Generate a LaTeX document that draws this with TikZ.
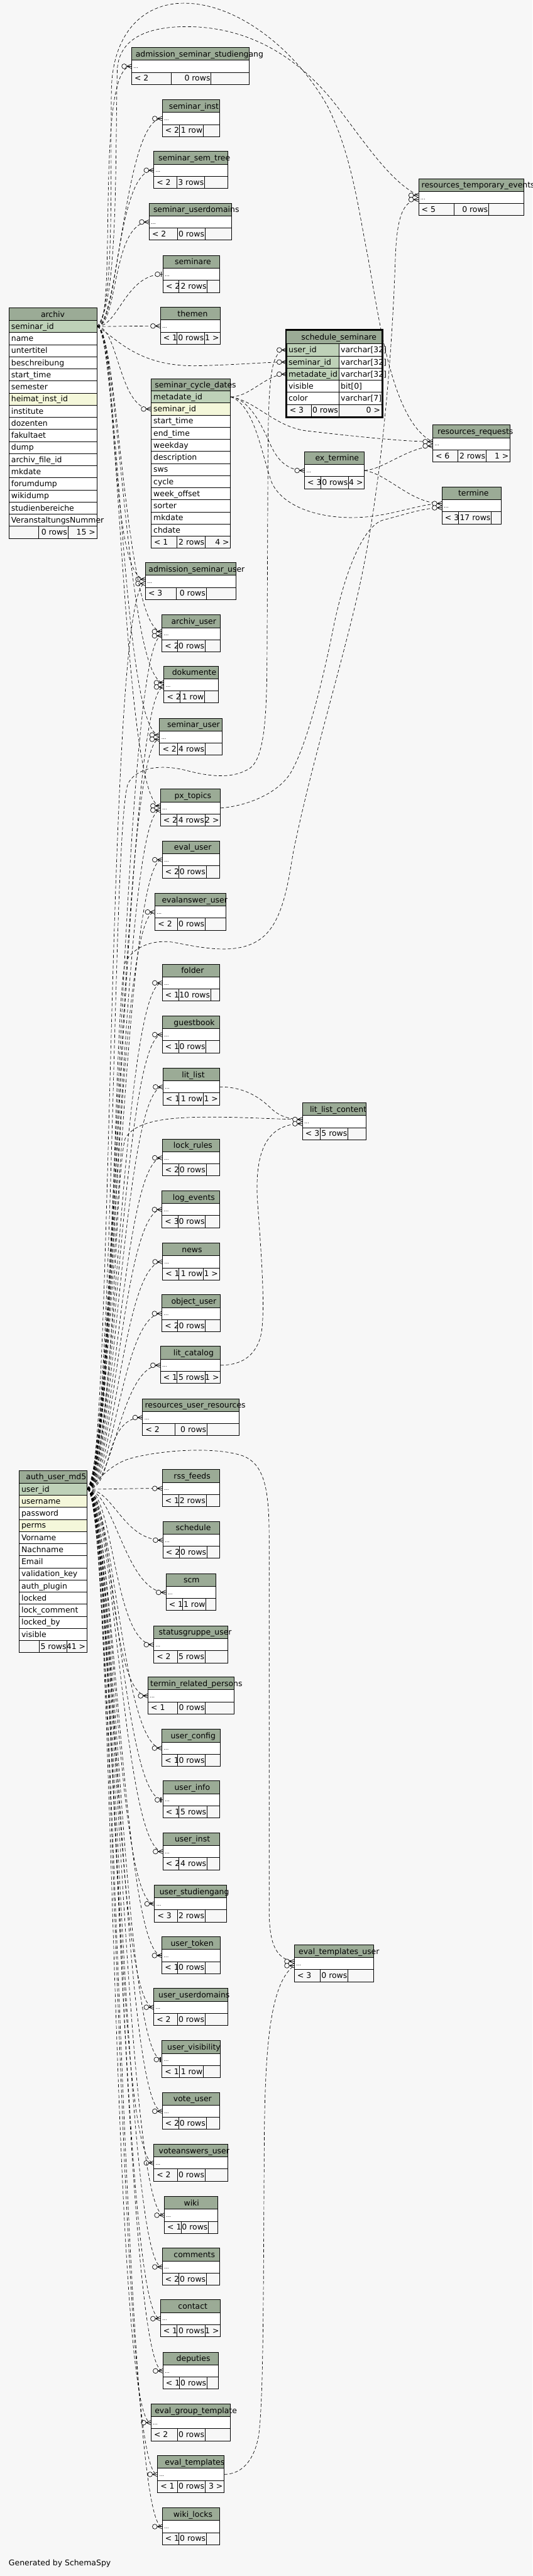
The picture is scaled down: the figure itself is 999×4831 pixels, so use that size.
\documentclass[tikz,border=0pt]{standalone}
\usepackage{fontspec}
\setmainfont{DejaVu Sans}
\usetikzlibrary{fit}
\definecolor{bg}{HTML}{F7F7F7}
\definecolor{hdr}{HTML}{9BAB96}
\definecolor{keycol}{HTML}{BED1B8}
\definecolor{idxcol}{HTML}{F4F7DA}
\tikzset{
  fkline/.style={line width=0.6pt, dash pattern=on 4.5pt off 3pt},
  marker/.style={line width=0.6pt, solid},
  cell/.style={anchor=base west, inner sep=0pt},
  rowbox/.style={draw, line width=0.75pt, inner sep=0pt},
  crowodot/.pic={
    \draw[marker] (-9,0) -- (0,4) (-9,0) -- (0,-4) (-9,0) -- (0,0);
    \draw[marker, fill=bg] (-13.5,0) circle[radius=3.4pt];
  },
  teeodot/.pic={
    \draw[marker, line width=1.5pt] (-3,-4.5) -- (-3,4.5);
    \draw[marker, fill=bg] (-10,0) circle[radius=3.4pt];
  }
}
\catcode`\_=12
\begin{document}
\begin{tikzpicture}[x=0.75pt, y=-0.75pt, line width=0.75pt,
    every node/.style={font=\fontsize{11}{13}\selectfont}]
\fill[bg] (0,0) rectangle (999,4831);
\useasboundingbox (0,0) rectangle (999,4831);

\foreach \n/\xl/\xr/\yt/\sa/\sb/\fa/\fb/\fc/\tx in {
  admission_seminar_studiengang/247/468/89/321/396/{< 2}/{0 rows}/{}/254,
  seminar_inst/304.5/412/187/336.4/381.6/{< 2}/{1 row}/{}/316.6,
  seminar_sem_tree/288.6/427/284/332/384/{< 2}/{3 rows}/{}/297,
  seminar_userdomains/280/435/381/332.6/384.8/{< 2}/{0 rows}/{}/287.3,
  resources_temporary_events/785.5/983/335/852/917/{< 5}/{0 rows}/{}/790.6,
  seminare/306/411.6/479/336/389/{< 2}/{2 rows}/{}/327.5,
  themen/301/413.5/576/332/384/{< 1}/{0 rows}/{1 >}/332.6,
  resources_requests/812/957/797/859/912/{< 6}/{2 rows}/{1 >}/820.6,
  ex_termine/571.5/683.6/847/602/654/{< 3}/{0 rows}/{4 >}/591,
  termine/829.5/940/913/860/922/{< 3}/{17 rows}/{}/859.4,
  admission_seminar_user/273/443/1055/331/387/{< 3}/{0 rows}/{}/278.4,
  archiv_user/304/413.5/1153/333/385/{< 2}/{0 rows}/{}/321,
  dokumente/307.7/409.7/1249/337.6/384/{< 2}/{1 row}/{}/322.4,
  seminar_user/299.4/416.7/1347/332.6/385/{< 2}/{4 rows}/{}/313.4,
  px_topics/301/413.5/1480/332/384.5/{< 2}/{4 rows}/{2 >}/326.8,
  eval_user/304.5/411.6/1577/335/387/{< 2}/{0 rows}/{}/326.2,
  evalanswer_user/291/424/1675/332.6/385/{< 2}/{0 rows}/{}/303.3,
  folder/304.5/412/1808/335/395.6/{< 1}/{10 rows}/{}/339.6,
  guestbook/304.5/412/1905/335/386.7/{< 1}/{0 rows}/{}/325.6,
  lit_list/305.8/411.6/2003/336/381.6/{< 1}/{1 row}/{1 >}/340.8,
  lit_list_content/567.6/687.4/2068/601.4/653/{< 3}/{5 rows}/{}/581,
  lock_rules/304.5/412/2136/335/387/{< 2}/{0 rows}/{}/325,
  log_events/304/412/2233/333.8/385.4/{< 3}/{0 rows}/{}/323.6,
  news/305/411.6/2331/336/381.6/{< 1}/{1 row}/{1 >}/340.8,
  object_user/304/413.5/2428/333/385.4/{< 2}/{0 rows}/{}/321,
  lit_catalog/301/413.5/2525/332/384.8/{< 1}/{5 rows}/{1 >}/325,
  resources_user_resources/267.6/448.5/2623/328/388.6/{< 2}/{0 rows}/{}/271.4,
  rss_feeds/304.5/411.6/2756/335.7/387/{< 1}/{2 rows}/{}/325.6,
  schedule/305.8/411.6/2853/336.4/388.6/{< 2}/{0 rows}/{}/329.4,
  scm/311.5/404.6/2951/342/386.7/{< 1}/{1 row}/{}/344,
  statusgruppe_user/288.6/427.5/3049/332.6/384.8/{< 2}/{5 rows}/{}/297.5,
  termin_related_persons/277.8/439.6/3145/332.6/385.4/{< 1}/{0 rows}/{}/281.6,
  user_config/304/413.5/3243/333/385.4/{< 1}/{0 rows}/{}/319.8,
  user_info/305.8/411.6/3340/336/388.6/{< 1}/{5 rows}/{}/326.8,
  user_inst/305.8/411.6/3437/336/388.6/{< 2}/{4 rows}/{}/327.5,
  user_studiengang/290/425.6/3535/332.6/384.8/{< 3}/{2 rows}/{}/298.8,
  user_token/304/412.8/3632/333/385/{< 1}/{0 rows}/{}/319.8,
  eval_templates_user/552.4/701.5/3647/601.4/653/{< 3}/{0 rows}/{}/560,
  user_userdomains/288.6/427.5/3729/332.6/384.8/{< 2}/{0 rows}/{}/296.9,
  user_visibility/304/413.5/3827/336.4/381.6/{< 1}/{1 row}/{}/313.4,
  vote_user/304.5/411.6/3924/335/387/{< 2}/{0 rows}/{}/325,
  voteanswers_user/288.6/427.5/4021/332.6/384.8/{< 2}/{0 rows}/{}/297.5,
  wiki/308.4/408.4/4119/340.2/391.2/{< 1}/{0 rows}/{}/344.6,
  comments/304.5/412/4216/335/387.4/{< 2}/{0 rows}/{}/325.6,
  contact/301/413.5/4313/332/384.8/{< 1}/{0 rows}/{1 >}/333.8,
  deputies/305.8/409.7/4411/336.4/388.6/{< 1}/{0 rows}/{}/330.6,
  eval_group_template/283.5/432.6/4508/332.6/384.8/{< 2}/{0 rows}/{}/290,
  eval_templates/295.6/420.5/4605/332.6/384.8/{< 1}/{0 rows}/{3 >}/309,
  wiki_locks/304.5/412/4703/335.5/387.4/{< 1}/{0 rows}/{}/325
}{
  \fill[hdr] (\xl,\yt) rectangle (\xr,\yt+24);
  \node[rowbox, fill=white, fit={(\xl,\yt+24) (\xr,\yt+46.7)}] (\n) {};
  \draw (\xl,\yt) rectangle (\xr,\yt+69.4)
    (\sa,\yt+46.7) -- (\sa,\yt+69.4) (\sb,\yt+46.7) -- (\sb,\yt+69.4);
  \node[cell] (\n-title) at (\tx,\yt+17.5) {\n};
  \node[cell, font=\scriptsize] (\n-dots) at (\xl+3,\yt+39) {...};
  \node[cell] (\n-left) at (\xl+5,\yt+63) {\fa};
  \node[cell, anchor=base east] (\n-rows) at (\sb-1,\yt+63) {\fb};
  \node[cell, anchor=base east] (\n-kids) at (\xr-2,\yt+63) {\fc};
}

% archiv
\fill[hdr] (16.6,577) rectangle (181.6,601);
\draw (16.6,577) rectangle (181.6,601);
\node[anchor=base] (archiv-title) at (99.1,594.5) {archiv};
\foreach \col/\fil [count=\i from 0] in {seminar_id/keycol, name/white,
    untertitel/white, beschreibung/white, start_time/white, semester/white,
    heimat_inst_id/idxcol, institute/white, dozenten/white, fakultaet/white,
    dump/white, archiv_file_id/white, mkdate/white, forumdump/white,
    wikidump/white, studienbereiche/white, VeranstaltungsNummer/white}{
  \node[rowbox, fill=\fil, fit={(16.6,601+22.7*\i) (181.6,623.7+22.7*\i)}] (archiv-\i) {};
  \node[cell] (archiv-name-\i) at (20.6,617.4+22.7*\i) {\col};
}
\draw (16.6,986.9) rectangle (181.6,1009.6)
  (72.6,986.9) -- (72.6,1009.6) (127.4,986.9) -- (127.4,1009.6);
\node[cell, anchor=base east] (archiv-rows) at (126.4,1002.9) {0 rows};
\node[cell, anchor=base east] (archiv-kids) at (179.6,1002.9) {15 >};

% auth_user_md5
\fill[hdr] (35.7,2757.5) rectangle (163,2781.5);
\draw (35.7,2757.5) rectangle (163,2781.5);
\node[cell] (auth-title) at (48.4,2775) {auth_user_md5};
\foreach \col/\fil [count=\i from 0] in {user_id/keycol, username/idxcol,
    password/white, perms/idxcol, Vorname/white, Nachname/white, Email/white,
    validation_key/white, auth_plugin/white, locked/white, lock_comment/white,
    locked_by/white, visible/white}{
  \node[rowbox, fill=\fil, fit={(35.7,2781.5+22.7*\i) (163,2804.2+22.7*\i)}] (auth-\i) {};
  \node[cell] (auth-name-\i) at (39.7,2797.9+22.7*\i) {\col};
}
\draw (35.7,3076.6) rectangle (163,3099.3)
  (73.9,3076.6) -- (73.9,3099.3) (126,3076.6) -- (126,3099.3);
\node[cell, anchor=base east] (auth-rows) at (125,3092.6) {5 rows};
\node[cell, anchor=base east] (auth-kids) at (161,3092.6) {41 >};

% seminar_cycle_dates
\fill[hdr] (283.5,710) rectangle (432.6,733);
\draw (283.5,710) rectangle (432.6,733);
\node[cell] (cycle-title) at (290,727) {seminar_cycle_dates};
\foreach \col/\fil [count=\i from 0] in {metadate_id/keycol, seminar_id/idxcol,
    start_time/white, end_time/white, weekday/white, description/white,
    sws/white, cycle/white, week_offset/white, sorter/white, mkdate/white,
    chdate/white}{
  \node[rowbox, fill=\fil, fit={(283.5,733+22.7*\i) (432.6,755.7+22.7*\i)}] (cycle-\i) {};
  \node[cell] (cycle-name-\i) at (287.5,749.4+22.7*\i) {\col};
}
\draw (283.5,1005.4) rectangle (432.6,1028.1)
  (332,1005.4) -- (332,1028.1) (385,1005.4) -- (385,1028.1);
\node[cell] (cycle-left) at (288.5,1021.4) {< 1};
\node[cell, anchor=base east] (cycle-rows) at (384,1021.4) {2 rows};
\node[cell, anchor=base east] (cycle-kids) at (430.6,1021.4) {4 >};

% schedule_seminare
\fill[hdr] (538,620) rectangle (716,645);
\node[cell] (sched-title) at (565,638) {schedule_seminare};
\foreach \col/\typ/\fil [count=\i from 0] in {user_id/varchar[32]/keycol,
    seminar_id/varchar[32]/keycol, metadate_id/varchar[32]/keycol,
    visible/bit[0]/white, color/varchar[7]/white}{
  \node[rowbox, fill=\fil, fit={(538,645+22.7*\i) (636,667.7+22.7*\i)}] (sched-\i) {};
  \node[rowbox, fill=white, fit={(636,645+22.7*\i) (716,667.7+22.7*\i)}] (sched-type-\i) {};
  \node[cell] (sched-name-\i) at (541,661.4+22.7*\i) {\col};
  \node[cell] (sched-typ-\i) at (639,661.4+22.7*\i) {\typ};
}
\draw (538,758.5) rectangle (716,781.2)
  (584,758.5) -- (584,781.2) (636,758.5) -- (636,781.2);
\node[cell] (sched-left) at (543,774.5) {< 3};
\node[cell, anchor=base east] (sched-rows) at (635,774.5) {0 rows};
\node[cell, anchor=base east] (sched-kids) at (714,774.5) {0 >};
\draw[line width=2.25pt] (536.5,618.5) rectangle (717.5,782.7);

% relationships of archiv
\foreach \tb in {admission_seminar_studiengang, seminar_inst, seminar_sem_tree,
    seminar_userdomains, themen}{
  \draw[fkline] (archiv-0.east) .. controls +(40,0) and +(-70,0) .. (\tb.west);
  \pic at (\tb.west) {crowodot};
}
\draw[fkline] (archiv-0.east) .. controls +(40,0) and +(-70,0) .. (seminare.west);
\pic at (seminare.west) {teeodot};
\draw[fkline] (archiv-0.east) .. controls +(40,0) and +(-60,0) .. (cycle-1.west);
\pic at (cycle-1.west) {crowodot};
\draw[fkline] (archiv-0.east) .. controls (215,630) and (255,688) .. (370,686)
  .. controls (450,684) and (500,679) .. (sched-1.west);
\draw[fkline] (archiv-0.east) .. controls (215,585) and (207,330) .. (209,170)
  .. controls (211,60) and (270,6) .. (345,6)
  .. controls (450,6) and (560,100) .. (615,200)
  .. controls (660,290) and (672,390) .. (690,480)
  .. controls (712,600) and (735,790) .. ([yshift=3pt]resources_requests.west);
\draw[fkline] (archiv-0.east) .. controls (222,570) and (216,300) .. (220,130)
  .. controls (224,70) and (280,50) .. (350,50)
  .. controls (470,50) and (560,110) .. (625,190)
  .. controls (680,260) and (730,340) .. ([yshift=3pt]resources_temporary_events.west);

% shared children
\foreach \tb in {admission_seminar_user, archiv_user, dokumente, seminar_user, px_topics}{
  \draw[fkline] (archiv-0.east) .. controls +(40,0) and +(-70,0) .. ([yshift=3pt]\tb.west);
  \draw[fkline] (auth-0.east) .. controls +(50,0) and +(-75,0) .. ([yshift=-3pt]\tb.west);
  \pic at ([yshift=3pt]\tb.west) {crowodot};
  \pic at ([yshift=-3pt]\tb.west) {crowodot};
}

% relationships of auth_user_md5
\foreach \tb in {eval_user, evalanswer_user, folder, guestbook, lit_list,
    lock_rules, log_events, news, object_user, lit_catalog,
    resources_user_resources, rss_feeds, schedule, scm, statusgruppe_user,
    termin_related_persons, user_config, user_inst, user_studiengang,
    user_token, user_userdomains, vote_user, voteanswers_user, wiki, comments,
    contact, deputies, eval_group_template, eval_templates, wiki_locks}{
  \draw[fkline] (auth-0.east) .. controls +(50,0) and +(-75,0) .. (\tb.west);
  \pic at (\tb.west) {crowodot};
}
\foreach \tb in {user_info, user_visibility}{
  \draw[fkline] (auth-0.east) .. controls +(50,0) and +(-75,0) .. (\tb.west);
  \pic at (\tb.west) {teeodot};
}
\draw[fkline] (auth-0.east) .. controls (215,2720) and (210,1560) .. (240,1470)
  .. controls (255,1440) and (300,1432) .. (350,1445)
  .. controls (400,1458) and (440,1460) .. (470,1440)
  .. controls (495,1420) and (500,1350) .. (501,1250) -- (503,820)
  .. controls (505,700) and (510,656) .. (sched-0.west);
\draw[fkline] (auth-0.east) .. controls (215,2720) and (212,1900) .. (235,1805)
  .. controls (250,1775) and (290,1760) .. (330,1768)
  .. controls (390,1780) and (450,1790) .. (490,1760)
  .. controls (530,1730) and (540,1660) .. (550,1600)
  .. controls (580,1450) and (640,1250) .. (670,1120)
  .. controls (710,950) and (735,700) .. (742,480)
  .. controls (745,410) and (755,376) .. ([yshift=-3pt]resources_temporary_events.west);
\draw[fkline] (auth-0.east) .. controls (215,2720) and (215,2200) .. (235,2135)
  .. controls (255,2100) and (320,2094) .. (414,2095)
  .. controls (480,2096) and (520,2099) .. ([yshift=3pt]lit_list_content.west);
\draw[fkline] (auth-0.east) .. controls (190,2770) and (210,2745) .. (245,2735)
  .. controls (300,2720) and (400,2712) .. (455,2730)
  .. controls (495,2745) and (505,2790) .. (505,2880) -- (505,3580)
  .. controls (505,3640) and (515,3674) .. ([yshift=3pt]eval_templates_user.west);

% other relationships
\draw[fkline] (cycle-0.east) .. controls (470,744) and (500,701) .. (sched-2.west);
\draw[fkline] (cycle-0.east) .. controls (470,750) and (492,800) .. (508,835)
  .. controls (522,865) and (540,882) .. (ex_termine.west);
\draw[fkline] (cycle-0.east) .. controls (478,760) and (490,850) .. (510,905)
  .. controls (530,950) and (600,975) .. (680,970)
  .. controls (740,966) and (790,944) .. ([yshift=3pt]termine.west);
\draw[fkline] (cycle-0.east) .. controls (480,752) and (515,800) .. (575,808)
  .. controls (680,820) and (760,828) .. ([yshift=3pt]resources_requests.west);
\draw[fkline] (ex_termine.east) .. controls (720,880) and (760,842) .. ([yshift=-3pt]resources_requests.west);
\draw[fkline] (ex_termine.east) .. controls (730,890) and (770,944) .. ([yshift=3pt]termine.west);
\draw[fkline] (px_topics.east) .. controls (460,1512) and (520,1490) .. (545,1450)
  .. controls (575,1400) and (605,1280) .. (625,1180)
  .. controls (645,1080) and (680,985) .. (720,975)
  .. controls (760,965) and (795,952) .. ([yshift=-3pt]termine.west);
\draw[fkline] (lit_list.east) .. controls (460,2038) and (490,2060) .. (510,2080)
  .. controls (525,2093) and (540,2099) .. ([yshift=3pt]lit_list_content.west);
\draw[fkline] (lit_catalog.east) .. controls (445,2560) and (475,2550) .. (488,2510)
  .. controls (500,2470) and (490,2350) .. (483,2250)
  .. controls (478,2160) and (500,2107) .. ([yshift=-3pt]lit_list_content.west);
\draw[fkline] (eval_templates.east) .. controls (450,4640) and (475,4620) .. (485,4570)
  .. controls (495,4500) and (494,4300) .. (496,4000)
  .. controls (498,3850) and (505,3720) .. ([yshift=-3pt]eval_templates_user.west);

\foreach \tb in {resources_requests, termine, lit_list_content,
    eval_templates_user, resources_temporary_events}{
  \pic at ([yshift=3pt]\tb.west) {crowodot};
  \pic at ([yshift=-3pt]\tb.west) {crowodot};
}
\foreach \tb in {sched-0, sched-1, sched-2, ex_termine}
  \pic at (\tb.west) {crowodot};

\node[cell] (credit) at (16,4812) {Generated by SchemaSpy};
\end{tikzpicture}
\end{document}
